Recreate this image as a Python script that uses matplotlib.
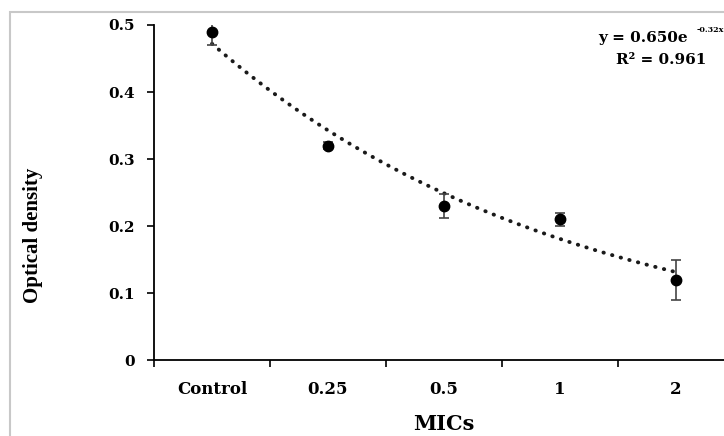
import numpy as np
import matplotlib
matplotlib.use("Agg")
import matplotlib.pyplot as plt
from matplotlib.patches import Rectangle

categories = ["Control", "0.25", "0.5", "1", "2"]
od_values = [0.49, 0.32, 0.23, 0.21, 0.12]
od_errors = [0.02, 0.005, 0.018, 0.01, 0.03]
fit_a = 0.650
fit_b = -0.32
r_squared = 0.961
y_ticks = [0, 0.1, 0.2, 0.3, 0.4, 0.5]
y_ticklabels = ["0", "0.1", "0.2", "0.3", "0.4", "0.5"]

plt.rcParams['font.family'] = ['DejaVu Serif']
plt.rcParams['font.weight'] = 'bold'

fig = plt.figure(figsize=(7.24, 4.36), dpi=100)
fig.patches.append(Rectangle((10/724, -0.1), 1.2, 1 - 12/436 + 0.1, transform=fig.transFigure,
                             fill=False, edgecolor='#c8c8c8', linewidth=1.5))

ax = fig.add_axes([154/724, 1 - 360/436, 580/724, 335/436])
x = np.arange(1, len(categories) + 1)

xf = np.linspace(1, 5, 200)
ax.plot(xf, fit_a * np.exp(fit_b * xf), color='#1a1a1a', linewidth=2.8,
        linestyle=(0, (0.1, 2.2)), dash_capstyle='round', zorder=2)

ax.errorbar(x, od_values, yerr=od_errors, fmt='o', color='black', markersize=7.5,
            ecolor='#444444', elinewidth=1.2, capsize=3.8, capthick=1.2, zorder=3)

ax.set_xlim(0.5, 5.5)
ax.set_ylim(0, 0.5)
ax.set_yticks(y_ticks)
ax.set_yticklabels(y_ticklabels, fontsize=11, fontweight='bold')
ax.set_xticks(x)
ax.set_xticklabels(categories, fontsize=12, fontweight='bold')
ax.tick_params(axis='x', which='major', length=0, pad=15)
ax.set_xticks(np.arange(0.5, 6.0, 1.0), minor=True)
ax.tick_params(axis='x', which='minor', length=5, width=1.2, direction='out')
ax.tick_params(axis='y', which='major', length=5, width=1.2, direction='out', pad=9)
for s in ['top', 'right']:
    ax.spines[s].set_visible(False)
for s in ['left', 'bottom']:
    ax.spines[s].set_linewidth(1.3)

fig.text(33/724, 1 - 235/436, "Optical density", rotation=90, ha='center', va='center',
         fontsize=15, fontweight='bold', family=['Liberation Serif', 'DejaVu Serif'])
fig.text(444/724, 1 - 424/436, "MICs", ha='center', va='center', fontsize=15, fontweight='bold')

fig.text(598/724, 1 - 42/436, "y = %.3fe" % fit_a, ha='left', va='baseline', fontsize=11, fontweight='bold')
fig.text(697/724, 1 - 32/436, "%.2fx" % fit_b, ha='left', va='baseline', fontsize=5.8, fontweight='bold')
fig.text(661/724, 1 - 64/436, "R² = %.3f" % r_squared, ha='center', va='baseline', fontsize=11, fontweight='bold')

fig.savefig("out.png", dpi=100)
